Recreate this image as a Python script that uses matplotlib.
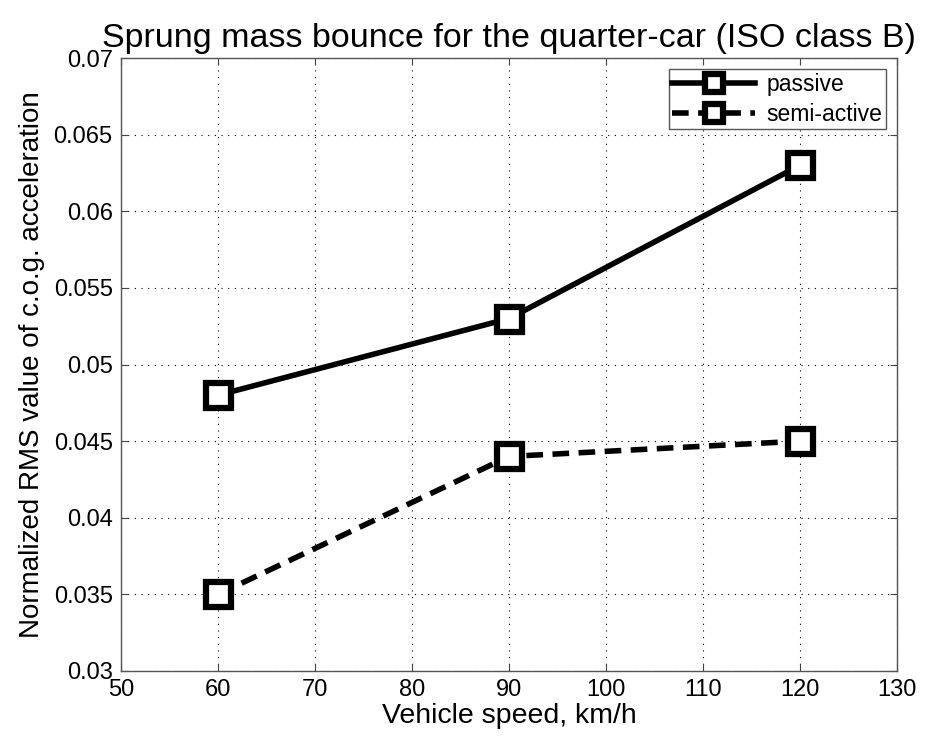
import matplotlib
matplotlib.use('Agg')
import matplotlib.pyplot as plt

speed = [60, 90, 120]
passive = [0.048, 0.053, 0.063]
semi_active = [0.035, 0.044, 0.045]
yticks = [0.03, 0.035, 0.04, 0.045, 0.05, 0.055, 0.06, 0.065, 0.07]
ytick_labels = ['0.03', '0.035', '0.04', '0.045', '0.05', '0.055', '0.06', '0.065', '0.07']

plt.rcParams['font.family'] = ['Liberation Sans', 'DejaVu Sans']

fig = plt.figure(figsize=(9.28, 7.42), dpi=100)
ax = fig.add_axes([0.1304, 0.0957, 0.8362, 0.8261])

ax.plot(speed, passive, 'k-', linewidth=4, marker='s', markersize=18,
        markerfacecolor='white', markeredgewidth=4.5, label='passive')
ax.plot(speed, semi_active, 'k--', linewidth=4, marker='s', markersize=18,
        markerfacecolor='white', markeredgewidth=4.5, dashes=(3, 1.7), label='semi-active')

ax.set_xlim(50, 130)
ax.set_ylim(0.03, 0.07)
ax.set_xticks(range(50, 131, 10))
ax.set_yticks(yticks)
ax.set_yticklabels(ytick_labels)
ax.tick_params(direction='in', top=True, right=True, labelsize=17, length=5,
               color='#444444', pad=6)
ax.grid(True, linestyle=(0, (1, 5)), color='black', linewidth=0.8)
for s in ax.spines.values():
    s.set_color('#555555')
    s.set_linewidth(1)

ax.set_xlabel('Vehicle speed, km/h', fontsize=20.5, labelpad=1)
ax.set_ylabel('Normalized RMS value of c.o.g. acceleration', fontsize=20, labelpad=6)
ax.set_title('Sprung mass bounce for the quarter-car (ISO class B)', fontsize=24.5, pad=8)

leg = ax.legend(loc='upper right', fontsize=16.5, fancybox=False, framealpha=1,
                edgecolor='#555555', handlelength=3.6, handletextpad=0.5,
                labelspacing=0.3, borderaxespad=0.5, borderpad=0.15,
                markerscale=0.75)
leg.get_frame().set_linewidth(1)

fig.savefig('out.png', dpi=100)
